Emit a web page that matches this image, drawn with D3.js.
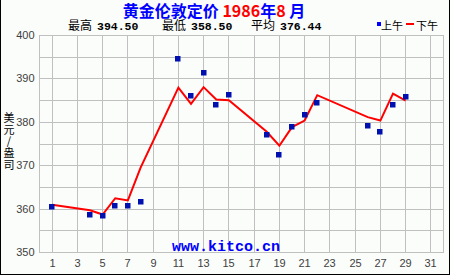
<!DOCTYPE html>
<html>
<head>
<meta charset="utf-8">
<script src="https://cdn.jsdelivr.net/npm/d3@7"></script>
<style>
  body { margin: 0; background: #fbfdfb; }
  svg { display: block; }
  .tick text { font-family: "Liberation Sans", Arial, sans-serif; font-size: 11px; fill: #404040; }
  .tick line { stroke: #c0c0c0; shape-rendering: crispEdges; }
  .domain { display: none; }
</style>
</head>
<body>
<svg width="450" height="275"></svg>
<script>
'use strict';

const amDays   = [1, 4, 5, 6, 7, 8, 11, 12, 13, 14, 15, 18, 19, 20, 21, 22, 26, 27, 28, 29];
const amPrices = [360.50, 358.75, 358.50, 360.75, 360.75, 361.75, 394.50, 386.10, 391.25, 384.00,
                  386.25, 377.10, 372.50, 379.00, 381.75, 384.50, 379.25, 377.75, 384.00, 385.90];
const pmDays   = [1, 4, 5, 6, 7, 8, 11, 12, 13, 14, 15, 18, 19, 20, 21, 22, 26, 27, 28, 29];
const pmPrices = [361.00, 359.75, 358.75, 362.50, 362.00, 369.50, 388.00, 384.25, 388.10, 385.25,
                  385.10, 377.80, 374.60, 378.90, 380.40, 386.25, 381.20, 380.40, 386.60, 385.00];
const xTicks = d3.range(1, 32, 2);
const yGrid = d3.range(350, 401, 5);
const yLabels = [350, 360, 370, 380, 390, 400];
const stats = [["最高", "394.50"], ["最低", "358.50"], ["平均", "376.44"]];

const svg = d3.select("svg");
const W = 450, H = 275;
const pLeft = 39.5, pRight = 443.5, pTop = 35.5, pBottom = 252.5;

const x = d3.scaleLinear().domain([0, 32]).range([pLeft, pRight]);
const y = d3.scaleLinear().domain([350, 400]).range([pBottom, pTop]);
const px = v => Math.round(x(v) - 0.5) + 0.5;
const py = v => Math.round(y(v) - 0.5) + 0.5;

// background
svg.append("rect").attr("x", 0).attr("y", 0).attr("width", W).attr("height", H).attr("fill", "#fbfdfb");

// vertical grid + day labels
const xAxis = svg.append("g")
    .attr("transform", "translate(0," + pBottom + ")")
    .call(d3.axisBottom(x).tickValues(xTicks).tickSize(-(pBottom - pTop)).tickPadding(7).tickFormat(d3.format("d")));
xAxis.selectAll(".tick").attr("transform", d => "translate(" + px(d) + ",0)");

// horizontal grid + price labels
const yAxis = svg.append("g")
    .attr("transform", "translate(" + pLeft + ",0)")
    .call(d3.axisLeft(y).tickValues(yGrid).tickSize(-(pRight - pLeft)).tickPadding(5)
        .tickFormat(d => yLabels.includes(d) ? d : ""));
yAxis.selectAll(".tick").attr("transform", d => "translate(0," + py(d) + ")");

// plot border
svg.append("rect")
    .attr("x", pLeft).attr("y", pTop)
    .attr("width", pRight - pLeft).attr("height", pBottom - pTop)
    .attr("fill", "none").attr("stroke", "#c0c0c0")
    .attr("shape-rendering", "crispEdges");

// watermark
svg.append("text")
    .attr("x", 226).attr("y", 251)
    .attr("text-anchor", "middle")
    .style("font-family", "'Liberation Mono', monospace")
    .style("font-weight", "bold").style("font-size", "15px")
    .attr("fill", "#0000ff")
    .text("www.kitco.cn");

// PM line
const pm = pmDays.map((d, i) => [d, pmPrices[i]]);
svg.append("path")
    .datum(pm)
    .attr("fill", "none").attr("stroke", "#ff0000").attr("stroke-width", 2)
    .attr("d", d3.line().x(d => x(d[0])).y(d => y(d[1])));

// AM squares
const am = amDays.map((d, i) => [d, amPrices[i]]);
svg.selectAll("rect.am")
    .data(am)
    .enter()
    .append("rect")
    .attr("class", "am")
    .attr("x", d => Math.round(x(d[0])) - 3)
    .attr("y", d => Math.round(y(d[1])) - 3)
    .attr("width", 5.5).attr("height", 5.5)
    .attr("fill", "#0010b0");

// title
const title = svg.append("text")
    .attr("x", 214).attr("y", 16.5)
    .attr("text-anchor", "middle")
    .style("font-family", "'Noto Sans CJK SC', sans-serif")
    .style("font-weight", "bold").style("font-size", "16px");
title.append("tspan").attr("fill", "#0000ff").text("黄金伦敦定价 ");
title.append("tspan").attr("fill", "#ff0000").text("1986");
title.append("tspan").attr("fill", "#0000ff").text("年");
title.append("tspan").attr("fill", "#ff0000").text("8");
title.append("tspan").attr("fill", "#0000ff").text(" 月");

// stats row
const statX = [68, 162, 251];
stats.forEach((s, i) => {
    svg.append("text")
        .attr("x", statX[i]).attr("y", 30)
        .style("font-family", "'Noto Sans CJK SC', sans-serif").style("font-size", "12px")
        .attr("fill", "#000")
        .text(s[0]);
    svg.append("text")
        .attr("x", statX[i] + 29).attr("y", 30)
        .style("font-family", "'Liberation Mono', monospace").style("font-weight", "bold").style("font-size", "11.5px")
        .attr("fill", "#000")
        .text(s[1]);
});

// legend
svg.append("rect").attr("x", 377).attr("y", 22).attr("width", 4).attr("height", 4).attr("fill", "#0000ff");
svg.append("text").attr("x", 381).attr("y", 30)
    .style("font-family", "'Noto Sans CJK SC', sans-serif").style("font-size", "11px")
    .text("上午");
svg.append("rect").attr("x", 406).attr("y", 23).attr("width", 8).attr("height", 2).attr("fill", "#ff0000");
svg.append("text").attr("x", 416).attr("y", 30)
    .style("font-family", "'Noto Sans CJK SC', sans-serif").style("font-size", "11px")
    .text("下午");

// y axis title, stacked characters
const yTitle = svg.append("text")
    .style("font-family", "'Noto Sans CJK SC', sans-serif").style("font-size", "11px")
    .attr("text-anchor", "middle");
["美", "元", "/", "盎", "司"].forEach((c, i) => {
    yTitle.append("tspan").attr("x", 9).attr("y", 122 + i * 11.7).text(c);
});

// outer frame
svg.append("path")
    .attr("d", "M0.5,0 V274.5 H449.5 V0")
    .attr("fill", "none").attr("stroke", "#000")
    .attr("shape-rendering", "crispEdges");
</script>
</body>
</html>
